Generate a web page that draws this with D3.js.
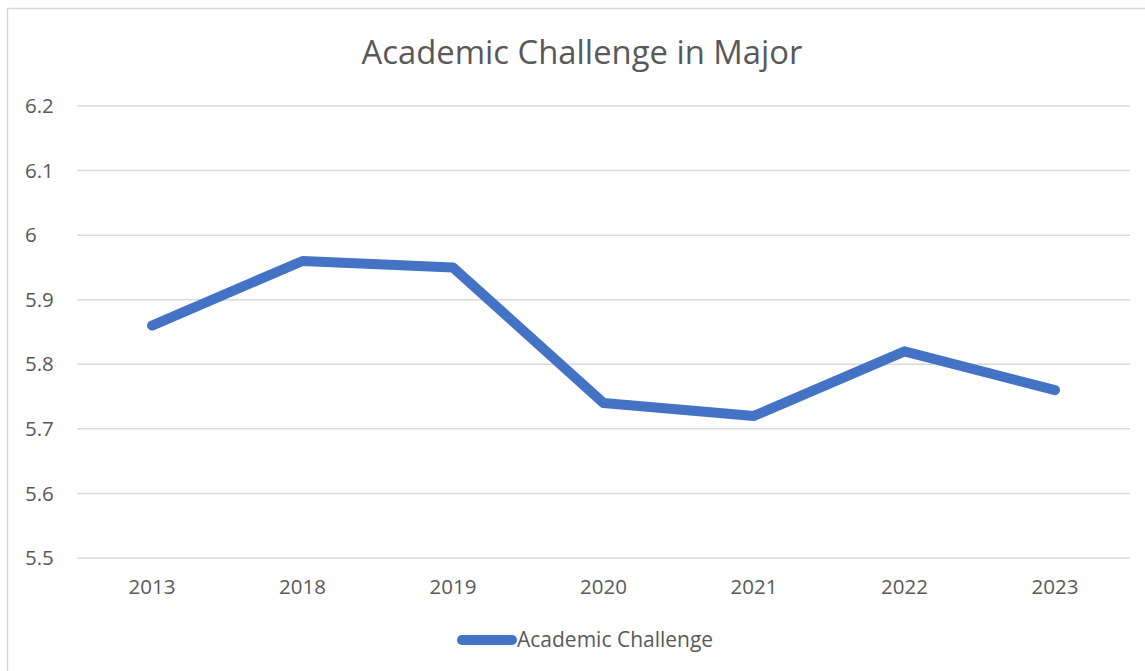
<!DOCTYPE html>
<html>
<head>
<meta charset="utf-8">
<script src="https://cdn.jsdelivr.net/npm/d3@7"></script>
<style>
  body { margin: 0; background: #fff; }
  svg { font-family: "Open Sans", "Liberation Sans", sans-serif; }
</style>
</head>
<body>
<svg id="svg" width="1145" height="671"></svg>
<script>
var years = ['2013', '2018', '2019', '2020', '2021', '2022', '2023'];
var values = [5.86, 5.96, 5.95, 5.74, 5.72, 5.82, 5.76];
var yTicks = [5.5, 5.6, 5.7, 5.8, 5.9, 6, 6.1, 6.2];
var seriesName = 'Academic Challenge';
var title = 'Academic Challenge in Major';

var svg = d3.select('#svg');
var blue = '#4472C4';
var txt = '#595959';

// chart frame
svg.append('rect')
    .attr('x', 7.5).attr('y', 8.5)
    .attr('width', 1150).attr('height', 680)
    .attr('fill', 'none').attr('stroke', '#d9d9d9').attr('stroke-width', 1.5);

var scX = d3.scalePoint().domain(years).range([152, 1055]);
var scY = d3.scaleLinear().domain([5.5, 6.2]).range([558, 106]);

// gridlines
svg.append('g')
    .selectAll('line').data(yTicks).enter().append('line')
    .attr('x1', 77).attr('x2', 1130)
    .attr('y1', d => scY(d)).attr('y2', d => scY(d))
    .attr('stroke', '#d9d9d9').attr('stroke-width', 1.5);

// y labels
svg.append('g')
    .selectAll('text').data(yTicks).enter().append('text')
    .attr('x', 25).attr('y', d => scY(d))
    .attr('dy', '0.35em')
    .attr('fill', txt).attr('font-size', 20.5)
    .text(d => d);

// x labels
svg.append('g')
    .selectAll('text').data(years).enter().append('text')
    .attr('x', d => scX(d)).attr('y', 587)
    .attr('dy', '0.35em')
    .attr('text-anchor', 'middle')
    .attr('fill', txt).attr('font-size', 20.5)
    .text(d => d);

// line
var line = d3.line()
    .x((d, i) => scX(years[i]))
    .y(d => scY(d));
svg.append('path')
    .datum(values)
    .attr('d', line)
    .attr('fill', 'none')
    .attr('stroke', blue).attr('stroke-width', 10)
    .attr('stroke-linecap', 'round').attr('stroke-linejoin', 'round');

// title
svg.append('text')
    .attr('x', 582).attr('y', 53)
    .attr('dy', '0.35em')
    .attr('text-anchor', 'middle')
    .attr('fill', txt).attr('font-size', 32.8)
    .text(title);

// legend
var lg = svg.append('g');
lg.append('line')
    .attr('x1', 462).attr('x2', 512)
    .attr('y1', 640).attr('y2', 640)
    .attr('stroke', blue).attr('stroke-width', 10)
    .attr('stroke-linecap', 'round');
lg.append('text')
    .attr('x', 517).attr('y', 640)
    .attr('dy', '0.35em')
    .attr('fill', txt).attr('font-size', 21)
    .text(seriesName);
</script>
</body>
</html>
